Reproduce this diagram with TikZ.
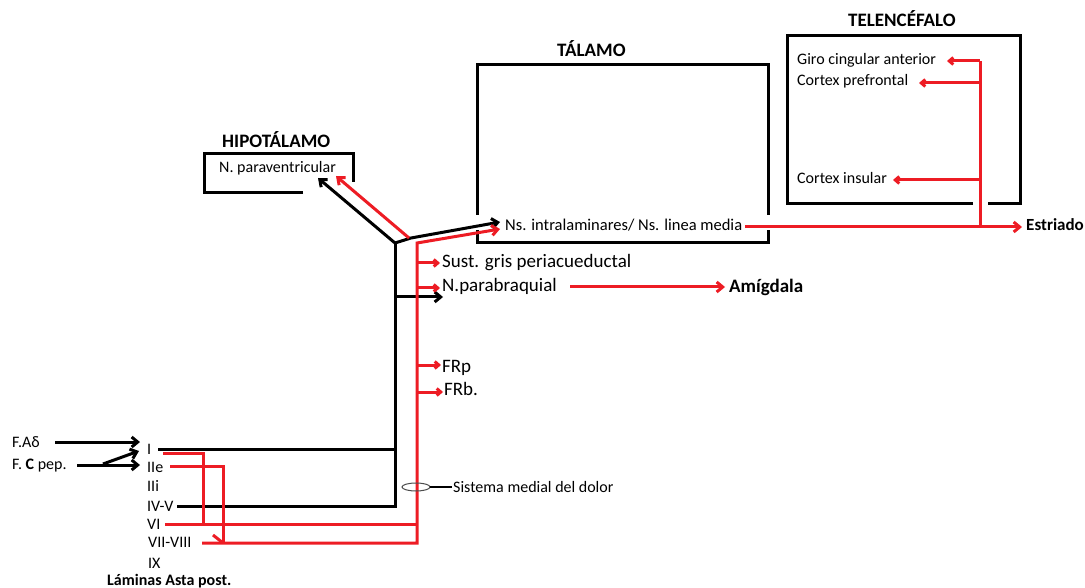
\documentclass[tikz,border=0pt]{standalone}
\usepackage{fontspec}
\setmainfont{Carlito}
\usetikzlibrary{arrows.meta}
\definecolor{pred}{RGB}{237,28,36}
\begin{document}
\begin{tikzpicture}[x=1pt,y=-1pt,
  blk/.style={line width=3pt,black},
  rd/.style={line width=3pt,pred},
  barb/.style={-{Straight Barb[length=6pt,width=10pt]}},
  sbarb/.style={-{Straight Barb[length=4pt,width=7pt]}},
  lbl/.style={anchor=base west,inner sep=0pt,font=\fontsize{16}{19}\selectfont},
  lbig/.style={anchor=base west,inner sep=0pt,font=\fontsize{19}{22}\selectfont},
  ttl/.style={anchor=base west,inner sep=0pt,font=\bfseries\fontsize{19}{22}\selectfont},
  box/.style={line width=3pt,black}
]
\useasboundingbox (0,0) rectangle (1085,588);
% text
\node[ttl] (hypt) at (222,148) {HIPOTÁLAMO};
\node[lbl] (pvn) at (219,173) {N. paraventricular};
\node[ttl] (talt) at (557,57) {TÁLAMO};
\node[lbl,font=\fontsize{16.5}{19}\selectfont] (intra) at (505,231) {Ns. intralaminares/ Ns. linea media};
\node[ttl] (telt) at (848,27) {TELENCÉFALO};
\node[lbl] (giro) at (797,65) {Giro cingular anterior};
\node[lbl] (pref) at (797,86) {Cortex prefrontal};
\node[lbl] (insu) at (797,184) {Cortex insular};
\node[ttl,font=\bfseries\fontsize{17}{20}\selectfont] (estr) at (1026,231) {Estriado};
\node[lbig] (sust) at (442,268) {Sust. gris periacueductal};
\node[lbig] (parab) at (442,292) {N.parabraquial};
\node[ttl] (amig) at (729,293) {Amígdala};
\node[lbig] (frp) at (442,372) {FRp};
\node[lbig] (frb) at (444,395) {FRb.};
\node[lbl] (sis) at (453,492) {Sistema medial del dolor};
\node[lbl] (fad) at (12,447) {F.Aδ};
\node[lbl] (fc) at (12,469) {F. \textbf{C} pep.};
\node[lbl] (l1) at (147,454) {I};
\node[lbl] (l2) at (147,472) {IIe};
\node[lbl] (l3) at (147,491) {IIi};
\node[lbl] (l4) at (147,511) {IV-V};
\node[lbl] (l6) at (147,529) {VI};
\node[lbl] (l7) at (148,547) {VII-VIII};
\node[lbl] (l9) at (148,568) {IX};
\node[ttl,font=\bfseries\fontsize{16}{19}\selectfont] (lam) at (107,585) {Láminas Asta post.};
% boxes
\draw[box] (303,193) -- (204,193) -- (204,154) -- (353,154) -- (353,182);
\draw[box] (477,215) -- (477,65) -- (768,65) -- (768,215);
\draw[box] (477,230) -- (477,243) -- (768,243) -- (768,230);
\draw[box] (973,204) -- (787,204) -- (787,36) -- (1020,36) -- (1020,204) -- (988,204);
% junctions
\coordinate (jb) at (395,243);
\coordinate (jr) at (417,243);
% black pathways
\draw[blk,barb] (jb) -- (318,178);
\draw[blk,barb] (jb) -- (411,238) -- (500,222);
\draw[blk] (158,449) -- (395,449);
\draw[blk] (177,506) -- (395,506) -- (jb);
\draw[blk,barb] (395,297) -- (443,297);
% red pathways
\draw[rd,barb] (409,238) -- (336,176);
\draw[rd,barb] (202,543) -- (417,543) -- (jr) -- (500,229);
\draw[rd] (165,524) -- (417,524);
\draw[rd] (163,453) -- (203,453) -- (203,524);
\draw[rd] (170,466) -- (223,466) -- (223,543);
\draw[rd] (213,535) -- (223,543);
\draw[rd,sbarb] (417,263) -- (440,263);
\draw[rd,sbarb] (417,288) -- (440,288);
\draw[rd,sbarb] (417,365) -- (441,365);
\draw[rd,sbarb] (417,392) -- (443,392);
\draw[rd,barb] (570,287) -- (725,287);
\draw[rd,barb] (745,227) -- (1022,227);
\draw[rd] (980,227) -- (980,61);
\draw[rd,sbarb] (980,61) -- (947,61);
\draw[rd,sbarb] (980,83) -- (919,83);
\draw[rd,sbarb] (980,180) -- (893,180);
% afferents
\draw[blk,barb] (55,442) -- (140,442);
\draw[blk,barb] (77,465) -- (140,465);
\draw[blk,barb] (103,464) -- (139,451);
% sistema medial
\draw[gray!60!black,line width=1pt] (416,487) ellipse [x radius=14pt,y radius=4pt];
\draw[black,line width=1.5pt] (430,487) -- (452,487);
\end{tikzpicture}
\end{document}
